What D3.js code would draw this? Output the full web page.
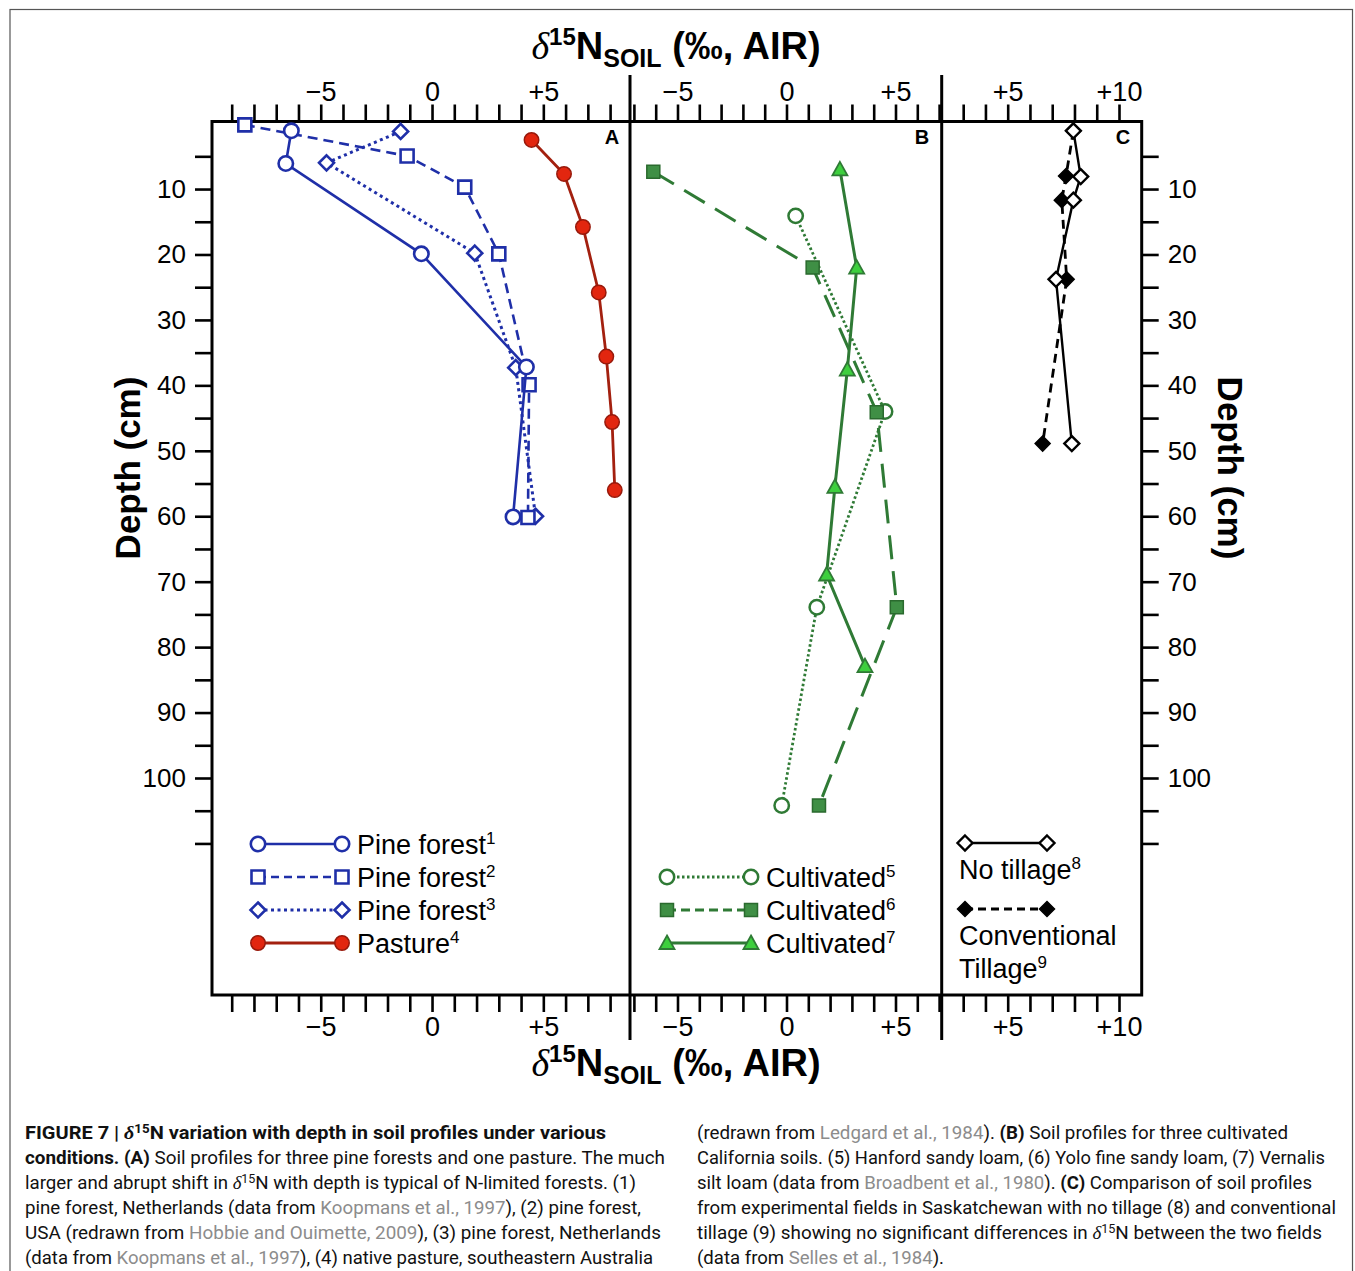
<!DOCTYPE html>
<html><head><meta charset="utf-8">
<script src="https://cdn.jsdelivr.net/npm/d3@7"></script>
<style>
body{margin:0;background:#fff}
svg{display:block}
text{font-family:"Liberation Sans",Arial,Helvetica,sans-serif}
</style>
</head><body>
<svg id="chart" width="1355" height="1271"></svg>
<script>
// ---------------- DATA ----------------
const depthTicks = [5,10,15,20,25,30,35,40,45,50,55,60,65,70,75,80,85,90,95,100,105,110];
const depthLabels = [10,20,30,40,50,60,70,80,90,100];

const ticksA = [-9,-8,-7,-6,-5,-4,-3,-2,-1,0,1,2,3,4,5,6,7,8];
const labelsA = [-5,0,5];
const ticksB = [-7,-6,-5,-4,-3,-2,-1,0,1,2,3,4,5,6,7];
const labelsB = [-5,0,5];
const ticksC = [3,4,5,6,7,8,9,10];
const labelsC = [5,10];

// Panel A
const pine1X = [-6.32,-6.57,-0.48,4.24,3.64];
const pine1D = [1.1,6.1,19.9,37.2,60.1];
const pine2X = [-8.41,-1.12,1.47,3.0,4.36,4.31];
const pine2D = [0.2,4.95,9.7,19.9,39.9,60.2];
const pine3X = [-1.41,-4.74,1.92,3.76,4.65];
const pine3D = [1.2,6.0,19.8,37.3,60.0];
const pastureX = [4.47,5.93,6.78,7.49,7.83,8.09,8.21];
const pastureD = [2.5,7.7,15.8,25.8,35.6,45.6,56.0];
// Panel B
const cult5X = [0.42,4.52,1.39,-0.22];
const cult5D = [14.1,44.0,73.9,104.2];
const cult6X = [-6.11,1.2,4.14,5.06,1.49];
const cult6D = [7.35,22.0,44.1,73.9,104.2];
const cult7X = [2.45,3.22,2.79,2.22,1.84,3.6];
const cult7D = [7.0,22.0,37.6,55.5,68.9,82.9];
// Panel C
const noTillX = [7.95,8.28,7.95,7.17,7.88];
const noTillD = [1.1,8.1,11.7,23.8,48.9];
const convX = [7.95,7.62,7.43,7.65,6.57];
const convD = [1.1,8.0,11.7,23.8,48.9];

const legendA = ["Pine forest","Pine forest","Pine forest","Pasture"];
const legendASup = ["1","2","3","4"];
const legendB = ["Cultivated","Cultivated","Cultivated"];
const legendBSup = ["5","6","7"];

const captionLeft = [
 [["FIGURE 7 | ","b"],["δ","bi"],["15","bsup"],["N variation with depth in soil profiles under various","b"]],
 [["conditions. (A)","b"],[" Soil profiles for three pine forests and one pasture. The much",""]],
 [["larger and abrupt shift in ",""],["δ","i"],["15","sup"],["N with depth is typical of N-limited forests. (1)",""]],
 [["pine forest, Netherlands (data from ",""],["Koopmans et al., 1997","g"],["), (2) pine forest,",""]],
 [["USA (redrawn from ",""],["Hobbie and Ouimette, 2009","g"],["), (3) pine forest, Netherlands",""]],
 [["(data from ",""],["Koopmans et al., 1997","g"],["), (4) native pasture, southeastern Australia",""]]
];
const captionLeftW = [581,640,611,616,636,628];
const captionRight = [
 [["(redrawn from ",""],["Ledgard et al., 1984","g"],["). ",""],["(B)","b"],[" Soil profiles for three cultivated",""]],
 [["California soils. (5) Hanford sandy loam, (6) Yolo fine sandy loam, (7) Vernalis",""]],
 [["silt loam (data from ",""],["Broadbent et al., 1980","g"],["). ",""],["(C)","b"],[" Comparison of soil profiles",""]],
 [["from experimental fields in Saskatchewan with no tillage (8) and conventional",""]],
 [["tillage (9) showing no significant differences in ",""],["δ","i"],["15","sup"],["N between the two fields",""]],
 [["(data from ",""],["Selles et al., 1984","g"],[").",""]]
];
const captionRightW = [591,628,615,639,625,247];

// ---------------- LAYOUT ----------------
const svg = d3.select("#chart");
const boxL = 212, boxR = 1141.7, boxT = 121.5, boxB = 995;
const divAB = 630, divBC = 941.7;

const y = d3.scaleLinear().domain([0,100]).range([123.6,778]);
const xA = d3.scaleLinear().domain([-9,8]).range([231.7,610.1]);
const xB = d3.scaleLinear().domain([-5,5]).range([677.5,895.5]);
const xC = d3.scaleLinear().domain([5,10]).range([1007.7,1119]);

const BLUE = "#1f2fa8", RED_LINE = "#a3200f", RED_FILL = "#e2260f", RED_STROKE = "#98190b";
const GREEN = "#2f7a35", GREEN_FILL = "#3f8f45", TRI_FILL = "#3ecf3e";

// outer frame
svg.append("rect").attr("x",10).attr("y",9.5).attr("width",1342.5).attr("height",1300)
  .attr("fill","none").attr("stroke","#555").attr("stroke-width",1.2);

// ---------------- AXES ----------------
function fmt(v){ return v===0 ? "0" : (v>0 ? "+"+v : "\u2212"+(-v)); }
function xAxisTop(scale, ticks, labels, domainExtent){
  const t = ticks.filter(v => scale(v) > domainExtent[0]+1 && scale(v) < domainExtent[1]-1);
  return d3.axisTop(scale).tickValues(t).tickSize(17).tickPadding(4)
     .tickFormat(v => labels.includes(v) ? fmt(v) : "");
}
function xAxisBottom(scale, ticks, labels, domainExtent){
  const t = ticks.filter(v => scale(v) > domainExtent[0]+1 && scale(v) < domainExtent[1]-1);
  return d3.axisBottom(scale).tickValues(t).tickSize(17).tickPadding(5)
     .tickFormat(v => labels.includes(v) ? fmt(v) : "");
}
function styleAxis(g, size){
  g.select(".domain").remove();
  g.selectAll(".tick line").attr("stroke","#000").attr("stroke-width",2.6);
  g.selectAll(".tick text").attr("fill","#000").style("font-size",size+"px")
    .style("font-family","'Liberation Sans',Arial,sans-serif");
}
const panels = [
  {s:xA, t:ticksA, l:labelsA, e:[boxL,divAB]},
  {s:xB, t:ticksB, l:labelsB, e:[divAB,divBC]},
  {s:xC, t:ticksC, l:labelsC, e:[divBC,boxR]}
];
panels.forEach(p=>{
  svg.append("g").attr("transform",`translate(0,${boxT})`).call(xAxisTop(p.s,p.t,p.l,p.e)).call(g=>styleAxis(g,27));
  svg.append("g").attr("transform",`translate(0,${boxB})`).call(xAxisBottom(p.s,p.t,p.l,p.e)).call(g=>styleAxis(g,27));
});
svg.append("g").attr("transform",`translate(${boxL},0)`)
  .call(d3.axisLeft(y).tickValues(depthTicks).tickSize(17).tickPadding(9)
     .tickFormat(v=>depthLabels.includes(v)?String(v):""))
  .call(g=>styleAxis(g,26));
svg.append("g").attr("transform",`translate(${boxR},0)`)
  .call(d3.axisRight(y).tickValues(depthTicks).tickSize(17).tickPadding(9)
     .tickFormat(v=>depthLabels.includes(v)?String(v):""))
  .call(g=>styleAxis(g,26));

// box and dividers
svg.append("rect").attr("x",boxL).attr("y",boxT).attr("width",boxR-boxL).attr("height",boxB-boxT)
  .attr("fill","none").attr("stroke","#000").attr("stroke-width",3);
[divAB,divBC].forEach(x=>{
  svg.append("line").attr("x1",x).attr("x2",x).attr("y1",75).attr("y2",1040)
    .attr("stroke","#000").attr("stroke-width",3);
});

// axis titles
function deltaTitle(yb){
  const t = svg.append("text").attr("x",676).attr("y",yb).attr("text-anchor","middle")
     .style("font-weight","bold").style("font-size","38px");
  t.append("tspan").text("δ").style("font-family","'Liberation Serif','DejaVu Serif',serif")
     .style("font-style","italic").style("font-weight","normal");
  t.append("tspan").text("15").attr("dy",-14).style("font-size","24px");
  t.append("tspan").text("N").attr("dy",14);
  t.append("tspan").text("SOIL").attr("dy",8).style("font-size","25px");
  t.append("tspan").text(" (‰, AIR)").attr("dy",-8);
}
deltaTitle(59);
deltaTitle(1076);

svg.append("text").attr("transform","translate(140,468) rotate(-90)").attr("text-anchor","middle")
  .style("font-weight","bold").style("font-size","35px").text("Depth (cm)");
svg.append("text").attr("transform","translate(1218,468) rotate(90)").attr("text-anchor","middle")
  .style("font-weight","bold").style("font-size","35px").text("Depth (cm)");

// panel letters
[["A",612],["B",922],["C",1123]].forEach(([l,x])=>{
  svg.append("text").attr("x",x).attr("y",144).attr("text-anchor","middle")
    .style("font-weight","bold").style("font-size","20px").text(l);
});

// ---------------- MARKERS ----------------
function markerPath(type){
  if(type==="circle") return d3.symbol(d3.symbolCircle, Math.PI*52)();
  if(type==="square") return "M-6.5,-6.5H6.5V6.5H-6.5Z";
  if(type==="diamond") return "M0,-7.5L7.5,0L0,7.5L-7.5,0Z";
  if(type==="triangle") return "M0,-7.5L7.5,6L-7.5,6Z";
}
function series(xs, ds, xs_scale, opt){
  const pts = xs.map((v,i)=>[xs_scale(v), y(ds[i])]);
  svg.append("path").attr("d", d3.line()(pts)).attr("fill","none")
    .attr("stroke",opt.line).attr("stroke-width",opt.lw)
    .attr("stroke-dasharray",opt.dash||null).attr("stroke-linecap",opt.cap||"butt");
  svg.append("g").selectAll("path").data(pts).join("path")
    .attr("transform",d=>`translate(${d[0]},${d[1]})`)
    .attr("d",markerPath(opt.marker)).attr("fill",opt.fill).attr("stroke",opt.mstroke).attr("stroke-width",opt.msw);
}
const sty = {
  pine1:{line:BLUE,lw:2.6,marker:"circle",fill:"#fff",mstroke:BLUE,msw:2.6},
  pine2:{line:BLUE,lw:2.6,dash:"10,6",marker:"square",fill:"#fff",mstroke:BLUE,msw:2.6},
  pine3:{line:BLUE,lw:3,dash:"3,3.5",marker:"diamond",fill:"#fff",mstroke:BLUE,msw:2.6},
  pasture:{line:RED_LINE,lw:2.8,marker:"circle",fill:RED_FILL,mstroke:RED_STROKE,msw:1.5},
  cult5:{line:GREEN,lw:2.8,dash:"2.5,2.5",marker:"circle",fill:"#fff",mstroke:GREEN,msw:2.5},
  cult6:{line:GREEN,lw:3,dash:"24,12",marker:"square",fill:GREEN_FILL,mstroke:"#2a6a2e",msw:1.5},
  cult7:{line:GREEN,lw:3,marker:"triangle",fill:TRI_FILL,mstroke:GREEN,msw:1.8},
  conv:{line:"#000",lw:2.8,dash:"9,6",marker:"diamond",fill:"#000",mstroke:"#000",msw:1.5},
  noTill:{line:"#000",lw:2.4,marker:"diamond",fill:"#fff",mstroke:"#000",msw:2.4}
};
series(pastureX,pastureD,xA,sty.pasture);
series(pine3X,pine3D,xA,sty.pine3);
series(pine2X,pine2D,xA,sty.pine2);
series(pine1X,pine1D,xA,sty.pine1);
series(cult5X,cult5D,xB,sty.cult5);
series(cult6X,cult6D,xB,sty.cult6);
series(cult7X,cult7D,xB,sty.cult7);
series(convX,convD,xC,sty.conv);
series(noTillX,noTillD,xC,sty.noTill);

// ---------------- LEGENDS ----------------
function legendSample(x1,x2,yy,opt){
  svg.append("line").attr("x1",x1).attr("x2",x2).attr("y1",yy).attr("y2",yy)
    .attr("stroke",opt.line).attr("stroke-width",opt.lw).attr("stroke-dasharray",opt.legDash||opt.dash||null);
  [x1,x2].forEach(x=>svg.append("path").attr("transform",`translate(${x},${yy})`)
    .attr("d",markerPath(opt.marker)).attr("fill",opt.fill).attr("stroke",opt.mstroke).attr("stroke-width",opt.msw));
}
function legendText(x,yy,label,sup){
  const t = svg.append("text").attr("x",x).attr("y",yy).style("font-size","27px");
  t.append("tspan").text(label);
  if(sup) t.append("tspan").text(sup).attr("dy",-10).style("font-size","17px");
  return t;
}
const legA = [sty.pine1, Object.assign({},sty.pine2,{legDash:"8,5"}), sty.pine3, sty.pasture];
legA.forEach((o,i)=>{
  const yy = 844 + 33*i;
  legendSample(258,342,yy,o);
  legendText(357,yy+10,legendA[i],legendASup[i]);
});
const legB = [sty.cult5, Object.assign({},sty.cult6,{legDash:"9,5"}), sty.cult7];
legB.forEach((o,i)=>{
  const yy = 877 + 33*i;
  legendSample(667,751,yy,o);
  legendText(766,yy+10,legendB[i],legendBSup[i]);
});
legendSample(965,1047,843,sty.noTill);
legendText(959,879,"No tillage","8");
legendSample(965,1047,909,Object.assign({},sty.conv,{legDash:"8,5"}));
legendText(959,945,"Conventional");
legendText(959,978,"Tillage","9");

// ---------------- CAPTION ----------------
function captionLine(x, yb, segs, w){
  const t = svg.append("text").attr("x",x).attr("y",yb).style("font-size","18px")
    .style("font-family","Roboto,'Liberation Sans',Arial,sans-serif")
    .attr("textLength",w).attr("lengthAdjust","spacingAndGlyphs").attr("fill","#111");
  let shifted = false;
  segs.forEach(([s,f])=>{
    const ts = t.append("tspan").text(s);
    if(f.includes("b")) ts.style("font-weight","bold");
    if(f.includes("g")) ts.attr("fill","#8c8c8c");
    if(f.includes("i")) ts.style("font-style","italic").style("font-family","'Liberation Serif','DejaVu Serif',serif");
    if(f.includes("sup")){ ts.attr("dy",-6).style("font-size","12px"); shifted = true; }
    else if(shifted){ ts.attr("dy",6); shifted = false; }
  });
}
captionLeft.forEach((segs,i)=>captionLine(25,1139+25*i,segs,captionLeftW[i]));
captionRight.forEach((segs,i)=>captionLine(697,1139+25*i,segs,captionRightW[i]));
</script>
</body></html>
